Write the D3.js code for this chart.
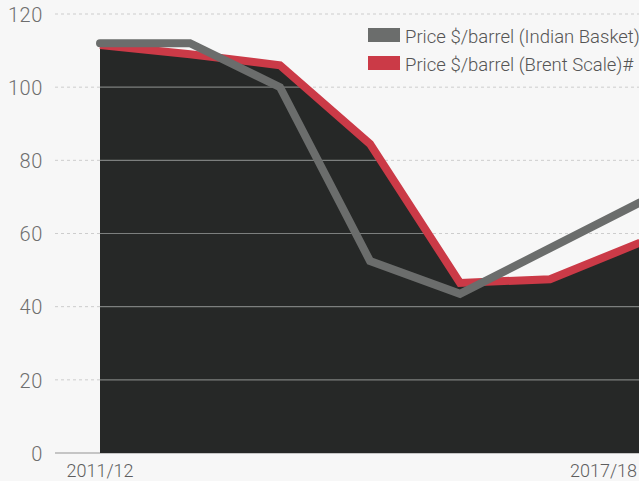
<!DOCTYPE html>
<html>
<head>
<meta charset="utf-8">
<script src="https://cdn.jsdelivr.net/npm/d3@7"></script>
<style>
  html, body { margin: 0; padding: 0; background: #f7f7f7; }
  svg { display: block; }
  text { font-family: Roboto, "Open Sans", sans-serif; font-weight: 300; }
</style>
</head>
<body>
<svg id="chart" width="639" height="481"></svg>
<script>
// fiscal years on the x axis
const years = ["2011/12", "2012/13", "2013/14", "2014/15", "2015/16", "2016/17", "2017/18"];
// only first and last years get a label
const shownYears = ["2011/12", "2017/18"];
// price $/barrel
const indianBasket = [112, 112, 100, 52.5, 43.5, 56, 68.5];
const brentScale   = [111.5, 109, 106, 84.5, 46.5, 47.5, 57.5];
// y ticks
const yTicks = [0, 20, 40, 60, 80, 100, 120];
const seriesNames = ["Price $/barrel (Indian Basket)", "Price $/barrel (Brent Scale)#"];

const width = 639, height = 481;
const margin = {top: 14, right: -1, bottom: 28, left: 100};

const svg = d3.select("#chart");

const x = d3.scalePoint()
    .domain(years)
    .range([margin.left, width - margin.right]);

const y = d3.scaleLinear()
    .domain([0, 120])
    .range([height - margin.bottom, margin.top]);

const gridLeft = 55;

// light dotted grid (white part)
svg.append("g")
    .selectAll("line")
    .data(yTicks)
    .join("line")
    .attr("x1", gridLeft)
    .attr("x2", width)
    .attr("y1", d => y(d))
    .attr("y2", d => y(d))
    .attr("stroke", d => d === 0 ? "#b4b4b4" : "#cdcdcd")
    .attr("stroke-width", d => d === 0 ? 1.5 : 1)
    .attr("stroke-dasharray", d => d === 0 ? null : "3,3");

// black area under the brent line
const area = d3.area()
    .x((d, i) => x(years[i]))
    .y0(y(0))
    .y1(d => y(d));

const areaPath = area(brentScale);

svg.append("path")
    .attr("d", areaPath)
    .attr("fill", "#262827");

// grid lines seen through the black area
svg.append("clipPath")
    .attr("id", "areaClip")
    .append("path")
    .attr("d", areaPath);

svg.append("g")
    .attr("clip-path", "url(#areaClip)")
    .selectAll("line")
    .data(yTicks.filter(d => d > 0))
    .join("line")
    .attr("x1", gridLeft)
    .attr("x2", width)
    .attr("y1", d => y(d))
    .attr("y2", d => y(d))
    .attr("stroke", "#7c7f7e")
    .attr("stroke-width", 1.2);

// lines
const line = d3.line()
    .x((d, i) => x(years[i]))
    .y(d => y(d));

svg.append("path")
    .attr("d", line(brentScale))
    .attr("fill", "none")
    .attr("stroke", "#cb3a47")
    .attr("stroke-width", 8)
    .attr("stroke-linejoin", "miter");

svg.append("path")
    .attr("d", line(indianBasket))
    .attr("fill", "none")
    .attr("stroke", "#6b6d6c")
    .attr("stroke-width", 8)
    .attr("stroke-linecap", "round")
    .attr("stroke-linejoin", "miter");

// y axis labels
const yAxis = d3.axisLeft(y).tickValues(yTicks).tickSize(0).tickPadding(0);
const yg = svg.append("g")
    .attr("transform", "translate(43,0)")
    .call(yAxis);
yg.select(".domain").remove();
yg.selectAll("text")
    .attr("fill", "#6e6e6e")
    .style("font-size", "20px")
    .style("letter-spacing", "0.6px")
    .attr("dy", "0.36em");

// x axis labels
svg.append("g")
    .selectAll("text")
    .data(shownYears)
    .join("text")
    .attr("x", d => x(d))
    .attr("y", 477)
    .attr("text-anchor", (d, i) => i === shownYears.length - 1 ? "end" : "middle")
    .attr("dx", (d, i) => i === shownYears.length - 1 ? -3 : 0)
    .attr("fill", "#5e5e5e")
    .style("font-size", "18px")
    .text(d => d);

// legend
const legendColors = ["#6b6d6c", "#cb3a47"];
const legend = svg.append("g")
    .selectAll("g")
    .data(seriesNames)
    .join("g")
    .attr("transform", (d, i) => "translate(368," + (28 + i * 28) + ")");

legend.append("rect")
    .attr("width", 32)
    .attr("height", 14)
    .attr("fill", (d, i) => legendColors[i]);

legend.append("text")
    .attr("x", 37)
    .attr("y", 15)
    .attr("fill", "#555")
    .style("font-size", "18.5px")
    .text(d => d);
</script>
</body>
</html>
